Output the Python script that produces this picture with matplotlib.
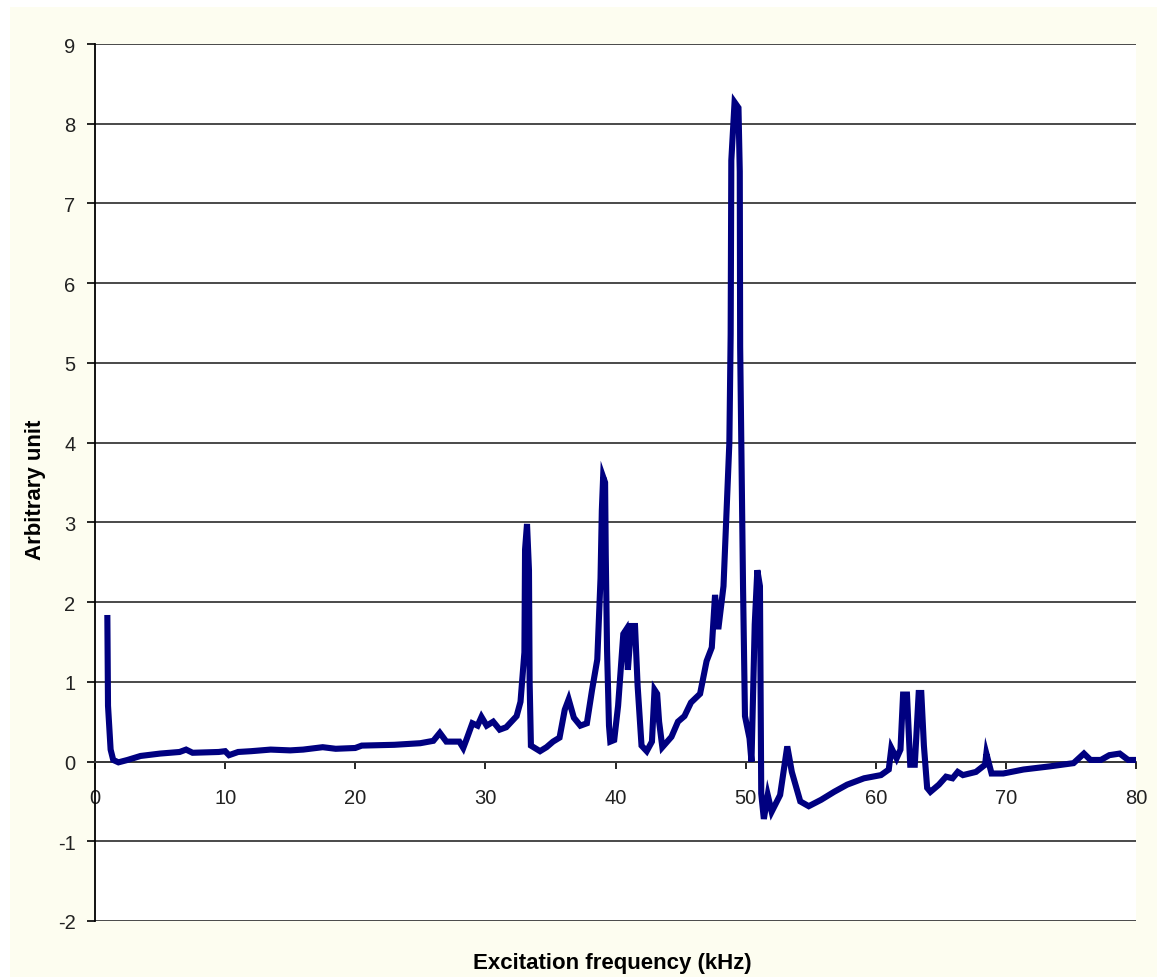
import matplotlib
matplotlib.use("Agg")
import matplotlib.pyplot as plt
from matplotlib.patches import Rectangle

plt.rcParams['font.family'] = ['Liberation Sans', 'DejaVu Sans']
plt.rcParams['axes.unicode_minus'] = False

# values (kHz, arbitrary unit)
freq = [0.95, 1.0, 1.2, 1.4, 1.8, 2.5, 3.5, 5.0, 6.5, 7.0, 7.5, 9.5, 10.0, 10.3, 11.0,
        12.0, 13.5, 15.0, 16.0, 17.5, 18.5, 20.0, 20.5, 23.0, 25.0, 26.0, 26.5, 27.0,
        28.0, 28.3, 28.6, 29.0, 29.4, 29.7, 30.1, 30.6, 31.1, 31.6, 32.0, 32.4, 32.7,
        33.0, 33.05, 33.2, 33.35, 33.4, 33.5, 34.2, 34.7, 35.2, 35.7, 36.1, 36.4, 36.8,
        37.3, 37.8, 38.2, 38.6, 38.85, 38.95, 39.05, 39.2, 39.25, 39.35, 39.5, 39.6,
        39.9, 40.2, 40.6, 40.8, 40.95, 41.2, 41.5, 41.7, 42.0, 42.4, 42.8, 43.0, 43.2,
        43.35, 43.6, 44.3, 44.8, 45.3, 45.8, 46.5, 47.0, 47.4, 47.65, 47.9, 48.3, 48.55,
        48.75, 48.85, 48.9, 49.15, 49.45, 49.55, 49.58, 49.7, 49.8, 49.95, 50.3, 50.45,
        50.7, 50.9, 51.1, 51.2, 51.4, 51.7, 52.0, 52.65, 53.2, 53.55, 54.2, 54.85,
        55.8, 56.8, 57.8, 59.1, 60.4, 61.0, 61.2, 61.6, 61.9, 62.1, 62.4, 62.65, 63.0,
        63.3, 63.5, 63.7, 63.95, 64.2, 64.85, 65.4, 65.9, 66.3, 66.7, 67.7, 68.4, 68.5,
        68.9, 69.8, 71.35, 73.4, 75.2, 76.0, 76.5, 77.3, 77.95, 78.75, 79.4, 80.0]
amp = [1.8, 0.7, 0.15, 0.02, -0.01, 0.02, 0.07, 0.1, 0.12, 0.15, 0.11, 0.12, 0.13, 0.08,
       0.12, 0.13, 0.15, 0.14, 0.15, 0.18, 0.16, 0.17, 0.2, 0.21, 0.23, 0.26, 0.36, 0.25,
       0.25, 0.17, 0.3, 0.48, 0.45, 0.56, 0.45, 0.5, 0.4, 0.43, 0.5, 0.57, 0.75,
       1.37, 2.66, 2.98, 2.4, 1.0, 0.2, 0.13, 0.18, 0.25, 0.3, 0.65, 0.78, 0.55,
       0.45, 0.48, 0.9, 1.28, 2.3, 3.15, 3.57, 3.5, 2.6, 1.4, 0.45, 0.25,
       0.27, 0.7, 1.6, 1.65, 1.15, 1.7, 1.7, 0.95, 0.2, 0.13, 0.25, 0.9, 0.85,
       0.5, 0.18, 0.31, 0.5, 0.57, 0.74, 0.85, 1.26, 1.43, 2.09, 1.66, 2.2, 3.2,
       4.0, 5.36, 7.54, 8.27, 8.2, 7.4, 5.2, 3.5, 2.2, 0.57, 0.29, 0.0,
       1.72, 2.4, 2.2, -0.4, -0.72, -0.42, -0.63, -0.42, 0.19, -0.13, -0.5, -0.56,
       -0.48, -0.38, -0.29, -0.21, -0.17, -0.1, 0.17, 0.04, 0.15, 0.84, 0.84, -0.04, -0.04,
       0.86, 0.86, 0.2, -0.33, -0.38, -0.29, -0.19, -0.21, -0.13, -0.17, -0.13, -0.04, 0.1,
       -0.15, -0.15, -0.1, -0.06, -0.02, 0.1, 0.02, 0.02, 0.08, 0.1, 0.02, 0.02]

x_ticks = [0, 10, 20, 30, 40, 50, 60, 70, 80]
y_ticks = [-2, -1, 0, 1, 2, 3, 4, 5, 6, 7, 8, 9]

W, H = 1157, 978
fig = plt.figure(figsize=(W / 100, H / 100), dpi=100, facecolor='white')
# cream chart area behind the white plot area
fig.patches.append(Rectangle((10 / W, 0), 1 - 10 / W, 1 - 8 / H, transform=fig.transFigure,
                             facecolor='#fdfdf0', edgecolor='none', zorder=-10))

ax = fig.add_axes([95 / W, 1 - 922 / H, (1136 - 95) / W, (922 - 45) / H])
ax.set_facecolor('white')

ax.plot(freq, amp, color='#000080', lw=4.4, solid_joinstyle='miter', zorder=3)

ax.set_xlim(0, 80)
ax.set_ylim(-2, 9)
ax.set_xticks(x_ticks)
ax.set_yticks(y_ticks)
ax.yaxis.grid(True, color='#3a3a3a', lw=1.3)
ax.set_axisbelow(True)

for s in ['top', 'right']:
    ax.spines[s].set_visible(False)
ax.spines['bottom'].set_position(('data', 0))
ax.spines['bottom'].set_color('#3a3a3a')
ax.spines['bottom'].set_linewidth(1.3)
ax.spines['left'].set_color('black')
ax.spines['left'].set_linewidth(1.3)

ax.tick_params(axis='x', direction='out', length=5, width=1.2, pad=14,
               labelsize=14.5, labelcolor='#222222')
ax.tick_params(axis='y', direction='out', length=6, width=1.2, pad=8,
               labelsize=14.5, labelcolor='#222222')

fig.text(612 / W, 1 - 964 / H, 'Excitation frequency (kHz)', ha='center', va='center',
         fontsize=16, fontweight='bold')
fig.text(35 / W, 1 - 490 / H, 'Arbitrary unit', ha='center', va='center',
         rotation=90, fontsize=16, fontweight='bold')

fig.savefig('out.png', dpi=100, facecolor=fig.get_facecolor())
